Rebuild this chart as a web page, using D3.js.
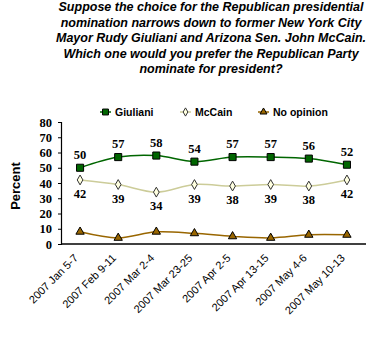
<!DOCTYPE html>
<html>
<head>
<meta charset="utf-8">
<script src="https://cdn.jsdelivr.net/npm/d3@7"></script>
<style>
  html, body { margin: 0; padding: 0; background: #fff; }
  svg { display: block; }
</style>
</head>
<body>
<script>
// Poll dates (x categories)
const categories = [
  "2007 Jan 5-7", "2007 Feb 9-11", "2007 Mar 2-4", "2007 Mar 23-25",
  "2007 Apr 2-5", "2007 Apr 13-15", "2007 May 4-6", "2007 May 10-13"
];
// Percent preferring each option
const giuliani = [50, 57, 58, 54, 57, 57, 56, 52];
const mccain = [42, 39, 34, 39, 38, 39, 38, 42];
const noOpinion = [8, 4, 8, 7, 5, 4, 6, 6];
const yTicks = [0, 10, 20, 30, 40, 50, 60, 70, 80];
const titleLines = [
  "Suppose the choice for the Republican presidential",
  "nomination narrows down to former New York City",
  "Mayor Rudy Giuliani and Arizona Sen. John McCain.",
  "Which one would you prefer the Republican Party",
  "nominate for president?"
];

const W = 381, H = 337;
const svg = d3.select("body").append("svg").attr("width", W).attr("height", H);

const plotLeft = 61, plotRight = 366, plotTop = 122, plotBottom = 244;

const x = d3.scalePoint().domain(categories).range([plotLeft, plotRight]).padding(0.5);
const y = d3.scaleLinear().domain([0, 80]).range([plotBottom, plotTop]);

// Title
svg.append("g").selectAll("text").data(titleLines).join("text")
  .attr("x", 211).attr("y", (d, i) => 11 + i * 15.5)
  .attr("text-anchor", "middle")
  .style("font-family", "'Liberation Sans', Arial, sans-serif")
  .style("font-weight", "bold").style("font-style", "italic")
  .style("font-size", "12.5px").attr("fill", "#000")
  .text(d => d);

// Axes
const yAxis = svg.append("g").attr("transform", `translate(${plotLeft},0)`)
  .call(d3.axisLeft(y).tickValues(yTicks).tickSize(3).tickPadding(6));
yAxis.select(".domain").attr("stroke", "#000").attr("stroke-width", 1.2);
yAxis.selectAll(".tick line").attr("stroke", "#000");
yAxis.selectAll("text")
  .style("font-family", "'Liberation Serif', 'Times New Roman', serif")
  .style("font-weight", "bold").style("font-size", "12.5px").attr("fill", "#000");

svg.append("line").attr("x1", plotLeft).attr("x2", plotRight).attr("y1", plotBottom).attr("y2", plotBottom)
  .attr("stroke", "#000").attr("stroke-width", 1.5);

// Category labels, rotated
svg.append("g").selectAll("text").data(categories).join("text")
  .attr("transform", d => `translate(${x(d) - 4},${plotBottom + 12}) rotate(-45)`)
  .attr("text-anchor", "end").attr("dy", "0.35em")
  .style("font-family", "'Liberation Sans', Arial, sans-serif")
  .style("font-size", "11px").attr("fill", "#000")
  .text(d => d);

// Y axis title
svg.append("text")
  .attr("transform", `translate(20,${(plotTop + plotBottom) / 2 + 3}) rotate(-90)`)
  .attr("text-anchor", "middle")
  .style("font-family", "'Liberation Sans', Arial, sans-serif")
  .style("font-weight", "bold").style("font-size", "13px")
  .text("Percent");

const line = d3.line().x((d, i) => x(categories[i])).y(d => y(d)).curve(d3.curveCardinal.tension(0));

const series = [
  { name: "Giuliani", values: giuliani, color: "#006600", fill: "#006600", stroke: "#000", symbol: d3.symbolSquare, size: 50, labels: "above" },
  { name: "McCain", values: mccain, color: "#CCCC99", fill: "#FFFFE0", stroke: "#333", symbol: d3.symbolDiamond, size: 28, labels: "below" },
  { name: "No opinion", values: noOpinion, color: "#996600", fill: "#996600", stroke: "#000", symbol: d3.symbolTriangle, size: 30, labels: null }
];

series.forEach(s => {
  svg.append("path").datum(s.values).attr("d", line)
    .attr("fill", "none").attr("stroke", s.color).attr("stroke-width", 1.5);
  svg.append("g").selectAll("path").data(s.values).join("path")
    .attr("transform", (d, i) => `translate(${x(categories[i])},${y(d)})`)
    .attr("d", d3.symbol().type(s.symbol).size(s.size))
    .attr("fill", s.fill).attr("stroke", s.stroke).attr("stroke-width", 1);
  if (s.labels) {
    svg.append("g").selectAll("text").data(s.values).join("text")
      .attr("x", (d, i) => x(categories[i]))
      .attr("y", d => s.labels === "above" ? y(d) - 9 : y(d) + 18)
      .attr("text-anchor", "middle")
      .style("font-family", "'Liberation Serif', 'Times New Roman', serif")
      .style("font-weight", "bold").style("font-size", "12.5px").attr("fill", "#000")
      .text(d => d);
  }
});

// Legend
const legendX = [100, 180, 258];
const legend = svg.append("g").selectAll("g").data(series).join("g")
  .attr("transform", (d, i) => `translate(${legendX[i]},112)`);
legend.append("line").attr("x1", 0).attr("x2", 11)
  .attr("stroke", d => d.color).attr("stroke-width", 1.5);
legend.append("path").attr("transform", "translate(5.5,0)")
  .attr("d", d => d3.symbol().type(d.symbol).size(d.size * 0.7)())
  .attr("fill", d => d.fill).attr("stroke", d => d.stroke);
legend.append("text").attr("x", 15).attr("dy", "0.35em")
  .style("font-family", "'Liberation Sans', Arial, sans-serif")
  .style("font-weight", "bold").style("font-size", "10.5px")
  .text(d => d.name);
</script>
</body>
</html>
